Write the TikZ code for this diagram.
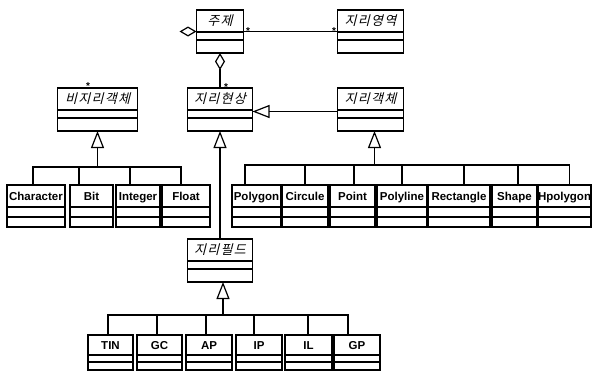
\documentclass[tikz,border=0pt]{standalone}
\usepackage{fontspec}
\setmainfont{Liberation Sans}
\newfontfamily\krfont[FakeSlant=0.25, LetterSpace=10]{Noto Sans CJK KR}
\usetikzlibrary{arrows.meta,positioning}
\tikzset{
  cls/.style n args={4}{
    draw, line width=1.2pt, inner sep=0pt, outer sep=0pt,
    text height=#1, text depth=#2,
    path picture={
      \draw[line width=1.2pt] ([yshift=-#3]path picture bounding box.north west)
        -- ([yshift=-#3]path picture bounding box.north east);
      \draw[line width=1.2pt] ([yshift=-#4]path picture bounding box.north west)
        -- ([yshift=-#4]path picture bounding box.north east);
    }
  },
  krcls/.style={cls={15.5pt}{27.5pt}{22pt}{30pt},
    font=\krfont\fontsize{13}{13}\selectfont},
  leafcls/.style={cls={15pt}{27pt}{22pt}{32pt},
    font=\bfseries\fontsize{11.5}{12}\selectfont},
  fldcls/.style={cls={14pt}{21pt}{20pt}{27pt},
    font=\bfseries\fontsize{11.5}{12}\selectfont},
  conn/.style={line width=1.2pt},
  inh/.style={conn, -{Triangle[open, length=17pt, width=13pt]}},
  aggr/.style={conn, {Diamond[open, length=17pt, width=10pt]}-},
  mult/.style={font=\bfseries\fontsize{10}{10}\selectfont, inner sep=0pt}
}
\begin{document}
\begin{tikzpicture}[x=1pt, y=-1pt]
\useasboundingbox (0,0) rectangle (592,380);

% top level classes
\node[krcls, minimum width=47pt, anchor=north] (zj) at (220,10) {주제};
\node[krcls, minimum width=66pt, right=94pt of zj] (jr) {지리영역};
\node[krcls, minimum width=65pt, below=35pt of zj] (jh) {지리현상};
\node[krcls, minimum width=66pt, below=35pt of jr] (jg) {지리객체};
\node[krcls, minimum width=80pt, left=50pt of jh] (bj) {비지리객체};
\node[krcls, minimum width=65pt, below=108pt of jh] (jf) {지리필드};

% non-spatial object types
\node[leafcls, minimum width=58pt, anchor=north west] (chr) at (7,185) {Character};
\node[leafcls, minimum width=43pt, right=5pt of chr] (bit) {Bit};
\node[leafcls, minimum width=44pt, right=3pt of bit] (int) {Integer};
\node[leafcls, minimum width=48pt, right=2pt of int] (flt) {Float};

% spatial object types
\node[leafcls, minimum width=49pt, anchor=north west] (poly) at (232,185) {Polygon};
\node[leafcls, minimum width=46pt, right=1pt of poly] (circ) {Circule};
\node[leafcls, minimum width=45pt, right=2pt of circ] (pnt) {Point};
\node[leafcls, minimum width=50pt, right=2pt of pnt] (pline) {Polyline};
\node[leafcls, minimum width=62pt, right=1pt of pline] (rect) {Rectangle};
\node[leafcls, minimum width=45pt, right=2pt of rect] (shp) {Shape};
\node[leafcls, minimum width=53pt, right=1pt of shp] (hpoly) {Hpolygon};

% field types
\node[fldcls, minimum width=45pt, anchor=north west] (tin) at (88,335) {TIN};
\node[fldcls, minimum width=45pt, right=4pt of tin] (gc) {GC};
\node[fldcls, minimum width=46pt, right=4pt of gc] (ap) {AP};
\node[fldcls, minimum width=46pt, right=4pt of ap] (ip) {IP};
\node[fldcls, minimum width=47pt, right=3pt of ip] (il) {IL};
\node[fldcls, minimum width=46pt, right=2pt of il] (gp) {GP};

% associations
\draw[conn] (zj.east) -- (jr.west);
\node[mult] (mzj) at (248,31) {*};
\node[mult] (mjr) at (334,31) {*};
\coordinate[left=16pt of zj.west] (zjl);
\draw[aggr] (zj.west) -- (zjl);
\draw[aggr] (zj.south) -- (jh.north);
\node[mult] (mjh) at (226,87) {*};
\node[mult] (mbj) at (88,86) {*};

% generalisations
\draw[inh] ([yshift=-2pt]jg.west) -- ([yshift=-2pt]jh.east);
\draw[inh] (jf.north) -- (jh.south);

\coordinate[below=36pt of bj.south] (lbar);
\draw[inh] (lbar) -- (bj.south);
\foreach \n/\dx in {chr/-3,bit/-12.5,int/-8,flt/-5}
  \draw[conn] ([xshift=\dx pt]\n.north) |- (lbar);

\coordinate[below=34pt of jg.south, xshift=4pt] (rbar);
\draw[inh] (rbar) -- ([xshift=4pt]jg.south);
\foreach \n/\dx in {poly/-11.5,circ/0,pnt/1.5,pline/0,rect/5,shp/3.5,hpoly/5}
  \draw[conn] ([xshift=\dx pt]\n.north) |- (rbar);

\coordinate[below=33pt of jf.south, xshift=3pt] (fbar);
\draw[inh] (fbar) -- ([xshift=3pt]jf.south);
\foreach \n/\dx in {tin/-2.5,gc/-2.5,ap/-3,ip/-5,il/-0.5,gp/-9}
  \draw[conn] ([xshift=\dx pt]\n.north) |- (fbar);
\end{tikzpicture}
\end{document}
